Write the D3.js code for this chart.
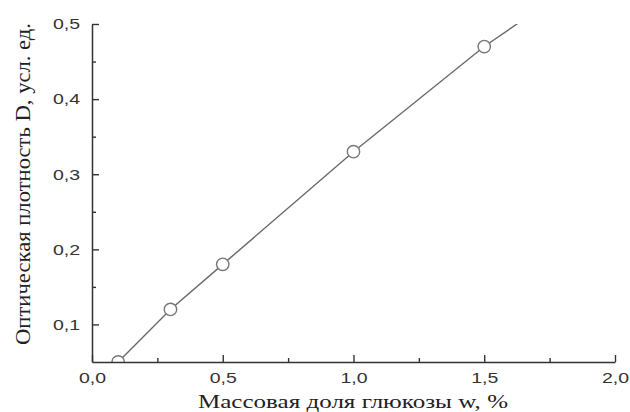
<!DOCTYPE html>
<html>
<head>
<meta charset="utf-8">
<script src="https://cdn.jsdelivr.net/npm/d3@7"></script>
<style>
  html, body { margin: 0; padding: 0; background: #fff; }
  svg { display: block; }
</style>
</head>
<body>
<svg id="chart" width="630" height="412"></svg>
<script>
// ---- data ----
const massFraction = [0.1, 0.3, 0.5, 1.0, 1.5, 2.0];      // w, %
const opticalDensity = [0.05, 0.12, 0.18, 0.33, 0.47, 0.59]; // D (last point lies above the plot, clipped)
const xTickValues = [0, 0.5, 1.0, 1.5, 2.0];
const xMinorTicks = [0.25, 0.75, 1.25, 1.75];
const yTickValues = [0.1, 0.2, 0.3, 0.4, 0.5];
const yMinorTicks = [0.15, 0.25, 0.35, 0.45];
const xTitle = "Массовая доля глюкозы w, %";
const yTitle = "Оптическая плотность D, усл. ед.";

const svg = d3.select("#chart");
const mLeft = 92, mRight = 615, mTop = 24, mBottom = 362;
const stretch = 1.3;

const x = d3.scaleLinear().domain([0, 2]).range([mLeft, mRight]);
const y = d3.scaleLinear().domain([0.05, 0.5]).range([mBottom, mTop]);
const fmt = d => d3.format(".1f")(d).replace(".", ",");

svg.append("clipPath").attr("id", "plotclip")
  .append("rect").attr("x", mLeft).attr("y", mTop)
  .attr("width", mRight - mLeft).attr("height", mBottom - mTop);

const pts = massFraction.map((v, i) => ({ x: v, y: opticalDensity[i] }));
const plot = svg.append("g").attr("clip-path", "url(#plotclip)");

plot.append("path")
  .datum(pts)
  .attr("fill", "none")
  .attr("stroke", "#6a6a6a")
  .attr("stroke-width", 1.4)
  .attr("d", d3.line().x(d => x(d.x)).y(d => y(d.y)));

plot.selectAll("circle").data(pts).enter().append("circle")
  .attr("cx", d => x(d.x)).attr("cy", d => y(d.y))
  .attr("r", 6.2)
  .attr("fill", "#fff")
  .attr("stroke", "#777")
  .attr("stroke-width", 1.4);

// ---- axes ----
const axisColor = "#333";
const xAxis = svg.append("g").attr("transform", `translate(0,${mBottom})`)
  .call(d3.axisBottom(x).tickValues(xTickValues).tickFormat(fmt)
        .tickSizeInner(-7).tickSizeOuter(0).tickPadding(10));
svg.append("g").attr("transform", `translate(0,${mBottom})`)
  .call(d3.axisBottom(x).tickValues(xMinorTicks).tickFormat("")
        .tickSizeInner(-4).tickSizeOuter(0))
  .select(".domain").remove();

const yAxis = svg.append("g").attr("transform", `translate(${mLeft},0)`)
  .call(d3.axisLeft(y).tickValues(yTickValues).tickFormat(fmt)
        .tickSizeInner(-7).tickSizeOuter(0).tickPadding(12));
svg.append("g").attr("transform", `translate(${mLeft},0)`)
  .call(d3.axisLeft(y).tickValues(yMinorTicks).tickFormat("")
        .tickSizeInner(-4).tickSizeOuter(0))
  .select(".domain").remove();

svg.selectAll(".domain").attr("stroke", axisColor).attr("stroke-width", 1.5);
svg.selectAll(".tick line").attr("stroke", axisColor).attr("stroke-width", 1.4);

svg.selectAll(".tick text")
  .attr("fill", "#333")
  .style("font-family", "'Liberation Sans', Arial, sans-serif")
  .style("font-size", "15px");

xAxis.selectAll(".tick text").attr("transform", `scale(${stretch},1)`);
yAxis.selectAll(".tick text")
  .attr("x", -12 / stretch)
  .attr("transform", `scale(${stretch},1)`);

// ---- titles ----
svg.append("text")
  .attr("x", (198 + 508) / 2).attr("y", 408)
  .attr("text-anchor", "middle")
  .attr("textLength", 310).attr("lengthAdjust", "spacingAndGlyphs")
  .style("font-family", "'Liberation Serif', 'Times New Roman', serif")
  .style("font-size", "18px")
  .attr("fill", "#222")
  .text(xTitle);

svg.append("text")
  .attr("transform", `translate(30,184) scale(1.15,1) rotate(-90)`)
  .attr("text-anchor", "middle")
  .attr("textLength", 322).attr("lengthAdjust", "spacingAndGlyphs")
  .style("font-family", "'Liberation Serif', 'Times New Roman', serif")
  .style("font-size", "18px")
  .attr("fill", "#222")
  .text(yTitle);
</script>
</body>
</html>
